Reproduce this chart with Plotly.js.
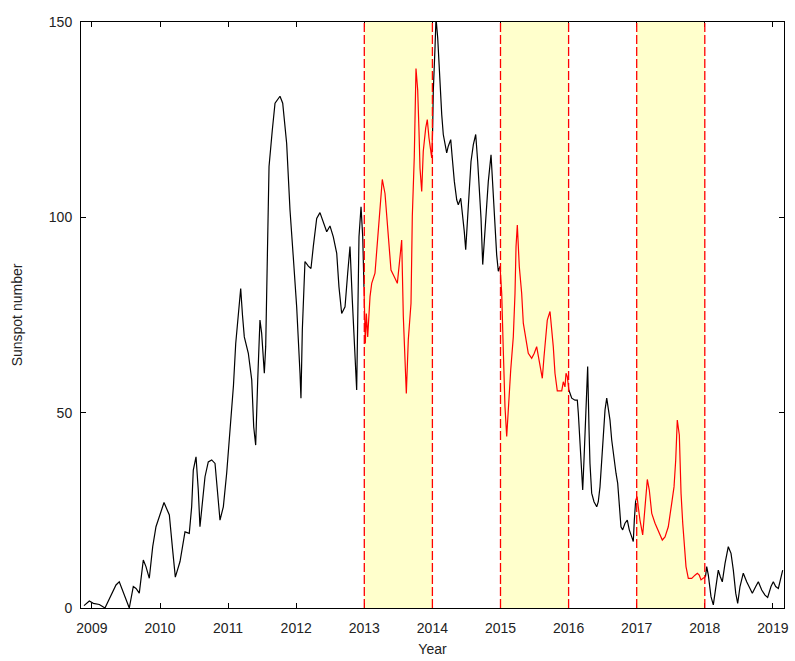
<!DOCTYPE html>
<html>
<head>
<meta charset="utf-8">
<script src="https://cdn.plot.ly/plotly-3.0.1.min.js"></script>
<style>html,body{margin:0;padding:0;background:#fff;}#chart{width:795px;height:661px;}</style>
</head>
<body>
<div id="chart"></div>
<script>
// Time (decimal year) and sunspot number
const years = [
2008.884,2008.962,2009.021,2009.109,2009.192,2009.354,2009.402,2009.549,2009.608,2009.648,
2009.696,2009.755,2009.794,2009.843,2009.893,2009.941,2010.059,2010.137,2010.186,2010.225,
2010.294,2010.367,2010.430,2010.465,2010.489,2010.529,2010.562,2010.587,2010.661,2010.709,
2010.759,2010.808,2010.881,2010.930,2010.979,2011.018,2011.053,2011.079,2011.112,2011.145,
2011.185,2011.211,2011.238,2011.297,2011.347,2011.376,2011.405,2011.435,2011.468,2011.493,
2011.532,2011.552,2011.581,2011.601,2011.649,2011.689,2011.762,2011.802,2011.860,2011.909,
2011.957,2012.007,2012.056,2012.070,2012.090,2012.129,2012.178,2012.217,2012.251,2012.301,
2012.349,2012.398,2012.448,2012.496,2012.545,2012.595,2012.628,2012.668,2012.717,2012.756,
2012.790,2012.824,2012.853,2012.888,2012.922,2012.952,2012.977,2012.995,2013.015,2013.030,
2013.050,2013.084,2013.109,2013.157,2013.197,2013.231,2013.264,2013.304,2013.352,2013.392,
2013.440,2013.485,2013.520,2013.549,2013.573,2013.598,2013.617,2013.646,2013.686,2013.705,
2013.734,2013.759,2013.784,2013.803,2013.818,2013.843,2013.866,2013.902,2013.925,2013.950,
2013.975,2013.990,2014.003,2014.013,2014.038,2014.053,2014.078,2014.097,2014.112,2014.137,
2014.160,2014.185,2014.210,2014.233,2014.269,2014.292,2014.322,2014.357,2014.380,2014.416,
2014.439,2014.468,2014.489,2014.512,2014.537,2014.567,2014.601,2014.636,2014.665,2014.689,
2014.714,2014.739,2014.762,2014.787,2014.821,2014.861,2014.894,2014.919,2014.944,2014.968,
2014.993,2015.018,2015.041,2015.066,2015.091,2015.115,2015.150,2015.188,2015.213,2015.228,
2015.247,2015.276,2015.311,2015.335,2015.374,2015.408,2015.458,2015.496,2015.531,2015.555,
2015.580,2015.614,2015.639,2015.668,2015.687,2015.727,2015.752,2015.775,2015.800,2015.834,
2015.874,2015.899,2015.922,2015.947,2015.962,2015.981,2016.004,2016.021,2016.046,2016.094,
2016.128,2016.143,2016.157,2016.178,2016.192,2016.207,2016.226,2016.241,2016.266,2016.280,
2016.300,2016.314,2016.339,2016.373,2016.413,2016.436,2016.461,2016.486,2016.510,2016.535,
2016.560,2016.583,2016.608,2016.633,2016.667,2016.696,2016.721,2016.745,2016.769,2016.794,
2016.828,2016.862,2016.891,2016.927,2016.950,2016.965,2016.985,2017.005,2017.023,2017.048,
2017.088,2017.122,2017.156,2017.185,2017.221,2017.269,2017.318,2017.376,2017.416,2017.464,
2017.514,2017.548,2017.573,2017.596,2017.626,2017.651,2017.676,2017.699,2017.724,2017.758,
2017.808,2017.856,2017.890,2017.919,2017.944,2017.975,2018.010,2018.028,2018.052,2018.091,
2018.125,2018.160,2018.198,2018.228,2018.257,2018.297,2018.345,2018.385,2018.419,2018.454,
2018.483,2018.517,2018.565,2018.615,2018.664,2018.698,2018.748,2018.786,2018.836,2018.884,
2018.923,2018.972,2019.006,2019.041,2019.080,2019.119,2019.144
];
const sunspots = [
0.6,1.8,1.2,0.9,0,5.9,6.7,0,5.5,5.0,
3.8,12.3,10.6,7.6,15.7,20.8,27.0,23.8,14.8,7.9,
11.9,19.5,19.1,25.9,35.3,38.7,30.2,20.8,33.6,37.4,
37.9,37.0,22.5,25.9,34.5,43.0,50.0,57.0,67.7,75.0,
81.8,75.0,69.4,65.2,58.4,46.4,41.7,58.4,73.7,70.3,
60.1,66.9,96.7,113.0,122.3,129.2,131.0,129.2,118.9,101.9,
89.9,77.1,60.1,53.7,71.2,88.7,87.5,86.9,92.5,99.7,
101.2,98.5,96.3,97.8,95.0,90.8,82.2,75.4,77.1,85.7,
92.5,78.8,69.4,55.8,95.0,102.7,95.0,82.2,67.7,75.4,
69.4,79.7,83.1,85.7,95.0,102.7,109.7,106.1,95.0,86.5,
84.8,83.1,89.1,94.2,74.6,60.9,54.9,68.6,78.0,100.2,
115.5,138.1,132.6,122.3,112.6,106.6,116.9,122.9,125.0,120.3,
117.7,115.2,122.0,132.2,143.3,151.0,145.9,139.1,133.1,126.3,
121.2,118.6,116.5,118.2,119.9,115.2,109.2,104.5,103.2,104.9,
101.5,96.4,91.7,98.1,106.6,114.3,118.6,121.2,114.3,106.6,
99.8,87.9,94.7,101.5,109.2,116.0,104.9,98.1,90.4,86.2,
87.4,80.5,66.0,51.5,43.9,51.5,60.9,69.4,80.5,92.5,
98.0,87.4,80.5,72.9,68.6,65.2,63.9,65.2,66.9,64.3,
61.8,58.8,64.3,70.3,73.7,75.9,72.0,66.9,60.1,55.6,
55.6,55.6,57.9,56.6,60.1,59.2,55.8,55.0,53.7,53.2,
53.2,49.8,44.7,37.9,32.8,30.2,37.9,45.6,55.8,61.8,
45.6,37.0,29.4,27.2,25.9,27.2,31.0,37.9,44.7,50.7,
53.7,51.5,48.1,43.0,37.9,34.5,31.9,25.9,20.8,20.0,
21.7,22.5,20.0,18.2,17.0,22.5,27.6,28.5,25.9,22.5,
18.7,25.9,32.9,30.2,24.2,21.7,19.5,17.4,18.2,20.8,
26.8,31.0,37.9,48.1,44.3,29.4,21.7,14.8,10.6,7.6,
7.6,8.4,8.9,8.4,7.2,7.6,8.0,10.6,8.4,2.9,
0.8,5.5,9.7,8.0,6.7,11.4,15.7,14.0,9.7,3.8,
1.2,5.5,8.9,6.7,5.0,3.8,5.5,6.7,4.6,3.3,
2.7,5.5,6.7,5.5,5.0,8.0,9.7
];
// Highlighted year intervals
const shadedStart = [2013, 2015, 2017];
const shadedEnd   = [2014, 2016, 2018];
const xTickYears = [2009,2010,2011,2012,2013,2014,2015,2016,2017,2018,2019];
const yTickValues = [0,50,100,150];

// Split series into black (outside) and red (inside highlighted intervals)
const blackY = sunspots.slice();
const traces = [];
const redTraces = [];
for (let k = 0; k < shadedStart.length; k++) {
  const a = shadedStart[k], b = shadedEnd[k];
  let i0 = -1, i1 = years.length - 1;
  for (let i = 0; i < years.length; i++) {
    if (years[i] < a) i0 = i;
    if (years[i] > b) { i1 = i; break; }
  }
  const rx = [], ry = [];
  for (let i = Math.max(i0, 0); i <= i1; i++) {
    rx.push(years[i]); ry.push(sunspots[i]);
    if (years[i] >= a && years[i] <= b) blackY[i] = null;
  }
  redTraces.push({x: rx, y: ry, type: 'scatter', mode: 'lines',
    line: {color: 'rgb(255,0,0)', width: 1.2}, hoverinfo: 'skip', showlegend: false});
}
traces.push({x: years, y: blackY, type: 'scatter', mode: 'lines', connectgaps: false,
  line: {color: 'black', width: 1.2}, hoverinfo: 'skip', showlegend: false});
redTraces.forEach(t => traces.push(t));

const shapes = [];
for (let k = 0; k < shadedStart.length; k++) {
  shapes.push({type: 'rect', xref: 'x', yref: 'paper', x0: shadedStart[k], x1: shadedEnd[k],
    y0: 0, y1: 1, fillcolor: 'rgb(255,255,204)', line: {width: 0}, layer: 'below'});
}
const edges = shadedStart.concat(shadedEnd);
edges.forEach(xv => shapes.push({type: 'line', xref: 'x', yref: 'paper', x0: xv, x1: xv,
  y0: 0, y1: 1, line: {color: 'rgb(255,0,0)', width: 1.3, dash: '9px,3px'}, layer: 'above'}));

const font = {family: 'Liberation Sans, Arial, sans-serif', size: 14, color: '#222'};
const layout = {
  width: 795, height: 661,
  margin: {l: 81, r: 11, t: 22, b: 53},
  paper_bgcolor: 'white', plot_bgcolor: 'white',
  font: font,
  showlegend: false,
  shapes: shapes,
  xaxis: {
    range: [2008.84, 2019.163], tickvals: xTickYears, ticktext: xTickYears.map(String),
    ticks: 'inside', ticklen: 5, tickcolor: 'black', tickwidth: 1,
    showline: true, linecolor: 'black', linewidth: 1, mirror: 'ticks',
    showgrid: false, zeroline: false, ticklabelstandoff: 7,
    title: {text: 'Year', font: font, standoff: 9}
  },
  yaxis: {
    range: [0, 150], tickvals: yTickValues,
    ticks: 'inside', ticklen: 5, tickcolor: 'black', tickwidth: 1,
    showline: true, linecolor: 'black', linewidth: 1, mirror: 'ticks',
    showgrid: false, zeroline: false, ticklabelstandoff: 5,
    title: {text: 'Sunspot number', font: font, standoff: 22}
  }
};
Plotly.newPlot('chart', traces, layout, {displayModeBar: false, staticPlot: true});
</script>
</body>
</html>
